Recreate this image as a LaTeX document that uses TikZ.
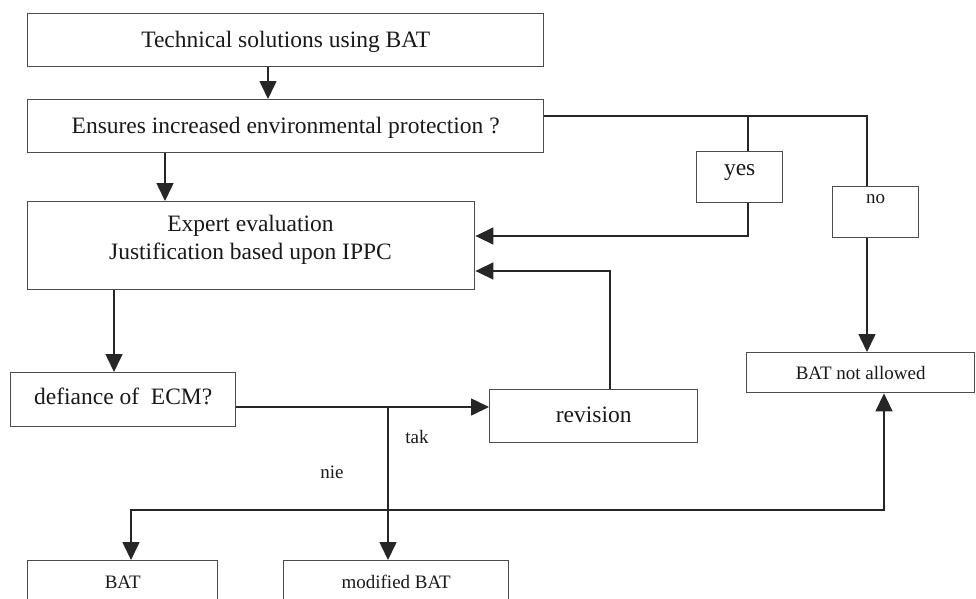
\documentclass[tikz,border=0pt]{standalone}
\usepackage{fontspec}
\setmainfont{Liberation Serif}
\usetikzlibrary{arrows.meta}
\newcommand\bigf{\fontsize{23.5}{28}\selectfont}
\newcommand\smallf{\fontsize{19}{22}\selectfont}
\begin{document}
\begin{tikzpicture}[x=1pt,y=-1pt,
  box/.style={draw=black!70, line width=1.4pt, inner sep=0pt, anchor=north west, text=black!90, font=\bigf},
  sbox/.style={box, font=\smallf},
  txt/.style={inner sep=0pt, text=black!90, font=\bigf},
  stxt/.style={inner sep=0pt, text=black!90, font=\smallf},
  line/.style={draw=black!85, line width=1.6pt},
  arr/.style={line, -{Triangle[length=18pt,width=17pt]}},
  arrboth/.style={line, {Triangle[length=18pt,width=17pt]}-{Triangle[length=18pt,width=17pt]}}]
\useasboundingbox (0,0) rectangle (976,598);
\clip (0,0) rectangle (976,598);

% boxes
\node[box, minimum width=516pt, text height=34pt, text depth=19pt] (b1) at (27,13) {Technical solutions using BAT};
\node[box, minimum width=516pt, text height=34pt, text depth=19pt] (b2) at (27,99) {Ensures increased environmental protection ?};
\node[box, minimum width=447pt, minimum height=88pt] (b3) at (27,201) {};
\node[txt, align=center] (b3t) at (250.5,240) {Expert evaluation\\Justification based upon IPPC};
\node[box, minimum width=225pt, text height=32pt, text depth=22pt] (def) at (10,372) {defiance of~ ECM?};
\node[box, minimum width=208pt, text height=33pt, text depth=20pt] (rev) at (489,389) {revision};
\node[box, minimum width=86pt, text height=24pt, text depth=27pt] (yes) at (696,151) {yes};
\node[sbox, minimum width=86pt, text height=17pt, text depth=34pt] (no) at (832,186) {no};
\node[sbox, minimum width=228pt, text height=27pt, text depth=13pt] (bna) at (746,352) {BAT not allowed};
\node[sbox, minimum width=190pt, text height=28pt, text depth=40pt] (bat) at (27,560) {BAT};
\node[sbox, minimum width=225pt, text height=28pt, text depth=40pt] (mod) at (283,560) {modified BAT};

% labels
\node[stxt] (tak) at (417,437) {tak};
\node[stxt] (nie) at (332,472) {nie};

% helper coordinates
\coordinate (x268) at (268,0);
\coordinate (x165) at (165,0);
\coordinate (x114) at (114,0);
\coordinate (top) at (543,116);
\coordinate (yesx) at (748,116);
\coordinate (nox) at (867,116);
\coordinate (yb) at (748,236);
\coordinate (rv) at (610,271);
\coordinate (jy) at (388,407);
\coordinate (bl) at (131,510);
\coordinate (br) at (884,510);

% connectors
\draw[arr] (b1.south -| x268) -- (b2.north -| x268);
\draw[arr] (b2.south -| x165) -- (b3.north -| x165);
\draw[line] (b2.east |- top) -- (nox) -- (no.north -| nox);
\draw[line] (yesx) -- (yes.north -| yesx);
\draw[arr] (yes.south -| yesx) -- (yb) -- (b3.east |- yb);
\draw[arr] (no.south -| nox) -- (bna.north -| nox);
\draw[arr] (b3.south -| x114) -- (def.north -| x114);
\draw[arr] (def.east |- jy) -- (rev.west |- jy);
\draw[arr] (rev.north -| rv) -- (rv) -- (b3.east |- rv);
\draw[arr] (jy) -- (mod.north -| jy);
\draw[arrboth] (bat.north -| bl) -- (bl) -- (br) -- (bna.south -| br);
\end{tikzpicture}
\end{document}
